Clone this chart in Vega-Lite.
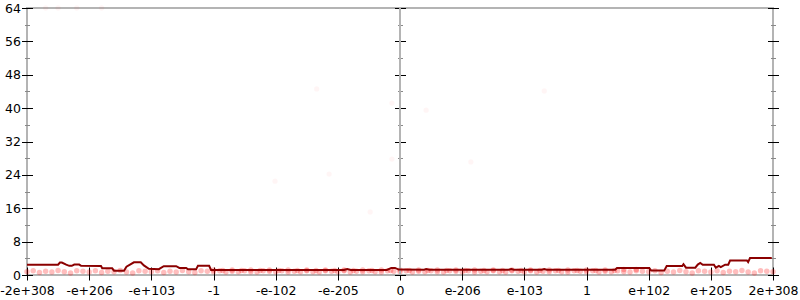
{
  "$schema": "https://vega.github.io/schema/vega-lite/v6.json",
  "width": 746,
  "height": 267,
  "autosize": {"type": "none"},
  "padding": {"left": 27, "top": 8, "right": 27, "bottom": 25},
  "background": "white",
  "config": {
    "view": {"stroke": "#b4b4b4", "strokeWidth": 2},
    "axis": {"labelFont": "DejaVu Sans", "labelFontSize": 12.5, "labelColor": "#000", "domain": false, "grid": false, "title": null}
  },
  "datasets": {
    "band": [
      {"x":-6.0,"y":0.8},{"x":-5.9,"y":1.0},{"x":-5.8,"y":0.6},{"x":-5.7,"y":0.9},{"x":-5.6,"y":0.7},{"x":-5.5,"y":1.1},{"x":-5.4,"y":0.8},{"x":-5.3,"y":0.5},{"x":-5.2,"y":1.0},{"x":-5.1,"y":0.9},
      {"x":-5.0,"y":0.7},{"x":-4.9,"y":1.0},{"x":-4.8,"y":0.6},{"x":-4.7,"y":0.9},{"x":-4.6,"y":0.8},{"x":-4.5,"y":1.1},{"x":-4.4,"y":0.7},{"x":-4.3,"y":0.5},{"x":-4.2,"y":1.0},{"x":-4.1,"y":0.9},
      {"x":-4.0,"y":0.8},{"x":-3.9,"y":1.0},{"x":-3.8,"y":0.6},{"x":-3.7,"y":0.9},{"x":-3.6,"y":0.7},{"x":-3.5,"y":1.1},{"x":-3.4,"y":0.8},{"x":-3.3,"y":0.6},{"x":-3.2,"y":1.0},{"x":-3.1,"y":0.9},
      {"x":-3.0,"y":0.8},{"x":-2.9,"y":1.0},{"x":-2.8,"y":0.7},{"x":-2.7,"y":0.9},{"x":-2.6,"y":0.8},{"x":-2.5,"y":1.0},{"x":-2.4,"y":0.8},{"x":-2.3,"y":0.7},{"x":-2.2,"y":1.0},{"x":-2.1,"y":0.9},
      {"x":-2.0,"y":0.8},{"x":-1.9,"y":1.0},{"x":-1.8,"y":0.7},{"x":-1.7,"y":0.9},{"x":-1.6,"y":0.8},{"x":-1.5,"y":1.0},{"x":-1.4,"y":0.8},{"x":-1.3,"y":0.7},{"x":-1.2,"y":1.0},{"x":-1.1,"y":0.9},
      {"x":-1.0,"y":0.8},{"x":-0.9,"y":1.0},{"x":-0.8,"y":0.7},{"x":-0.7,"y":0.9},{"x":-0.6,"y":0.8},{"x":-0.5,"y":1.0},{"x":-0.4,"y":0.8},{"x":-0.3,"y":0.7},{"x":-0.2,"y":1.0},{"x":-0.1,"y":0.9},
      {"x":0.0,"y":0.8},{"x":0.1,"y":1.0},{"x":0.2,"y":0.7},{"x":0.3,"y":0.9},{"x":0.4,"y":0.8},{"x":0.5,"y":1.0},{"x":0.6,"y":0.8},{"x":0.7,"y":0.7},{"x":0.8,"y":1.0},{"x":0.9,"y":0.9},
      {"x":1.0,"y":0.8},{"x":1.1,"y":1.0},{"x":1.2,"y":0.7},{"x":1.3,"y":0.9},{"x":1.4,"y":0.8},{"x":1.5,"y":1.0},{"x":1.6,"y":0.8},{"x":1.7,"y":0.7},{"x":1.8,"y":1.0},{"x":1.9,"y":0.9},
      {"x":2.0,"y":0.8},{"x":2.1,"y":1.0},{"x":2.2,"y":0.7},{"x":2.3,"y":0.9},{"x":2.4,"y":0.8},{"x":2.5,"y":1.0},{"x":2.6,"y":0.8},{"x":2.7,"y":0.7},{"x":2.8,"y":1.0},{"x":2.9,"y":0.9},
      {"x":3.0,"y":0.8},{"x":3.1,"y":1.0},{"x":3.2,"y":0.7},{"x":3.3,"y":0.9},{"x":3.4,"y":0.8},{"x":3.5,"y":1.0},{"x":3.6,"y":0.8},{"x":3.7,"y":0.7},{"x":3.8,"y":1.0},{"x":3.9,"y":0.9},
      {"x":4.0,"y":0.8},{"x":4.1,"y":1.0},{"x":4.2,"y":0.6},{"x":4.3,"y":0.9},{"x":4.4,"y":0.7},{"x":4.5,"y":1.1},{"x":4.6,"y":0.8},{"x":4.7,"y":0.5},{"x":4.8,"y":1.0},{"x":4.9,"y":0.9},
      {"x":5.0,"y":0.7},{"x":5.1,"y":1.0},{"x":5.2,"y":0.6},{"x":5.3,"y":0.9},{"x":5.4,"y":0.8},{"x":5.5,"y":1.1},{"x":5.6,"y":0.7},{"x":5.7,"y":0.5},{"x":5.8,"y":1.0},{"x":5.9,"y":0.9},
      {"x":6.0,"y":0.8},
      {"x":-3.0,"y":1.2},{"x":-2.85,"y":1.1},{"x":-2.7,"y":1.2},{"x":-2.55,"y":1.1},{"x":-2.4,"y":1.2},{"x":-2.25,"y":1.1},{"x":-2.1,"y":1.2},{"x":-1.95,"y":1.1},{"x":-1.8,"y":1.2},
      {"x":-1.65,"y":1.1},{"x":-1.5,"y":1.2},{"x":-1.35,"y":1.1},{"x":-1.2,"y":1.2},{"x":-1.05,"y":1.1},{"x":-0.9,"y":1.2},{"x":-0.75,"y":1.1},{"x":-0.6,"y":1.2},{"x":-0.45,"y":1.1},
      {"x":-0.3,"y":1.2},{"x":-0.15,"y":1.1},{"x":0.0,"y":1.2},{"x":0.15,"y":1.1},{"x":0.3,"y":1.2},{"x":0.45,"y":1.1},{"x":0.6,"y":1.2},{"x":0.75,"y":1.1},{"x":0.9,"y":1.2},
      {"x":1.05,"y":1.1},{"x":1.2,"y":1.2},{"x":1.35,"y":1.1},{"x":1.5,"y":1.2},{"x":1.65,"y":1.1},{"x":1.8,"y":1.2},{"x":1.95,"y":1.1},{"x":2.1,"y":1.2},{"x":2.25,"y":1.1},
      {"x":2.4,"y":1.2},{"x":2.55,"y":1.1},{"x":2.7,"y":1.2},{"x":2.85,"y":1.1},{"x":3.0,"y":1.2},{"x":3.15,"y":1.1},{"x":3.3,"y":1.2},{"x":3.45,"y":1.1},{"x":3.6,"y":1.3},{"x":3.8,"y":1.3}
    ],
    "scatter": [
      {"x":-1.34,"y":44.6},{"x":-2.01,"y":22.5},{"x":-1.14,"y":24.2},{"x":-0.48,"y":15.1},{"x":0.42,"y":39.5},{"x":2.32,"y":44.1},{"x":1.14,"y":27.1},{"x":-0.13,"y":27.8},{"x":-0.13,"y":41.2},
      {"x":-5.7,"y":64},{"x":-5.5,"y":64},{"x":-5.2,"y":64},{"x":-4.8,"y":64}
    ],
    "avg": [
      {"x":-6.0,"y":2.47},{"x":-5.5,"y":2.47},{"x":-5.47,"y":3.0},{"x":-5.44,"y":3.0},{"x":-5.37,"y":2.47},{"x":-5.32,"y":2.2},{"x":-5.28,"y":2.2},{"x":-5.24,"y":2.5},{"x":-5.16,"y":2.5},{"x":-5.13,"y":2.2},
      {"x":-4.81,"y":2.15},{"x":-4.79,"y":1.6},{"x":-4.63,"y":1.6},{"x":-4.6,"y":1.03},{"x":-4.44,"y":1.03},{"x":-4.4,"y":2.0},{"x":-4.28,"y":3.04},{"x":-4.17,"y":3.04},{"x":-4.12,"y":2.3},{"x":-4.04,"y":1.5},
      {"x":-3.88,"y":1.4},{"x":-3.8,"y":2.1},{"x":-3.6,"y":2.1},{"x":-3.55,"y":1.7},{"x":-3.44,"y":1.7},{"x":-3.41,"y":1.35},{"x":-3.28,"y":1.35},{"x":-3.25,"y":2.2},{"x":-3.07,"y":2.2},{"x":-3.04,"y":1.2},
      {"x":-0.9,"y":1.2},{"x":-0.85,"y":1.45},{"x":-0.79,"y":1.2},{"x":-0.21,"y":1.2},{"x":-0.14,"y":1.7},{"x":-0.08,"y":1.7},{"x":-0.02,"y":1.3},{"x":0.39,"y":1.25},{"x":0.42,"y":1.45},{"x":0.47,"y":1.25},
      {"x":1.75,"y":1.25},{"x":1.79,"y":1.45},{"x":1.83,"y":1.25},{"x":2.28,"y":1.25},{"x":2.32,"y":1.45},{"x":2.36,"y":1.25},{"x":3.46,"y":1.25},{"x":3.49,"y":1.65},{"x":4.01,"y":1.65},{"x":4.04,"y":1.05},
      {"x":4.25,"y":1.05},{"x":4.29,"y":2.15},{"x":4.54,"y":2.15},{"x":4.56,"y":2.6},{"x":4.6,"y":1.75},{"x":4.75,"y":1.75},{"x":4.79,"y":2.5},{"x":4.83,"y":2.9},{"x":4.87,"y":2.47},{"x":5.05,"y":2.47},
      {"x":5.08,"y":1.75},{"x":5.13,"y":2.2},{"x":5.16,"y":1.9},{"x":5.23,"y":2.47},{"x":5.28,"y":2.47},{"x":5.31,"y":3.5},{"x":5.58,"y":3.5},{"x":5.6,"y":3.1},{"x":5.63,"y":4.05},{"x":5.98,"y":4.05}
    ]
  },
  "layer": [
    {
      "data": {"name": "band"},
      "mark": {"type": "circle", "size": 30, "color": "#ff0000", "opacity": 0.26},
      "encoding": {
        "x": {"field": "x", "type": "quantitative", "scale": {"domain": [-6, 6], "nice": false},
          "axis": {"orient": "bottom", "values": [-6,-5,-4,-3,-2,-1,0,1,2,3,4,5,6], "offset": -8, "tickSize": 13, "tickColor": "#000", "labelPadding": 4, "labelFlush": false, "labelOverlap": false, "labelBound": false,
            "labelExpr": "['-2e+308','-e+206','-e+103','-1','-e-102','-e-205','0','e-206','e-103','1','e+102','e+205','2e+308'][round(datum.value) + 6]"}},
        "y": {"field": "y", "type": "quantitative", "scale": {"domain": [0, 64], "nice": false},
          "axis": {"orient": "left", "values": [0,4,8,12,16,20,24,28,32,36,40,44,48,52,56,60,64], "offset": -5.5, "tickSize": 11, "labelPadding": 1,
            "labelExpr": "datum.value % 8 === 0 ? datum.label : ''",
            "tickColor": {"condition": {"test": "datum.value % 8 !== 0", "value": "#888"}, "value": "#000"},
            "tickDash": {"condition": {"test": "datum.value % 8 !== 0", "value": [0, 3, 5, 20]}, "value": []}}}
      }
    },
    {
      "data": {"name": "scatter"},
      "mark": {"type": "circle", "size": 28, "color": "#ff0000", "opacity": 0.04},
      "encoding": {
        "x": {"field": "x", "type": "quantitative"},
        "y": {"field": "y", "type": "quantitative",
          "axis": {"orient": "right", "values": [0,4,8,12,16,20,24,28,32,36,40,44,48,52,56,60,64], "offset": -5.5, "tickSize": 11, "labels": false,
            "tickColor": {"condition": {"test": "datum.value % 8 !== 0", "value": "#888"}, "value": "#000"},
            "tickDash": {"condition": {"test": "datum.value % 8 !== 0", "value": [0, 3, 5, 20]}, "value": []}}}
      }
    },
    {
      "data": {"values": [{"x": 0, "y": 0, "y2": 64}]},
      "mark": {"type": "rule", "color": "#b4b4b4", "strokeWidth": 2},
      "encoding": {
        "x": {"field": "x", "type": "quantitative"},
        "y": {"field": "y", "type": "quantitative",
          "axis": {"orient": "left", "values": [0,4,8,12,16,20,24,28,32,36,40,44,48,52,56,60,64], "offset": -378.5, "tickSize": 11, "labels": false,
            "tickColor": {"condition": {"test": "datum.value % 8 !== 0", "value": "#888"}, "value": "#000"},
            "tickDash": {"condition": {"test": "datum.value % 8 !== 0", "value": [0, 3, 5, 20]}, "value": []}}},
        "y2": {"field": "y2"}
      }
    },
    {
      "data": {"name": "avg"},
      "mark": {"type": "line", "color": "#8b0000", "strokeWidth": 2},
      "encoding": {
        "x": {"field": "x", "type": "quantitative"},
        "y": {"field": "y", "type": "quantitative", "axis": null}
      }
    }
  ],
  "resolve": {"axis": {"y": "independent"}}
}
